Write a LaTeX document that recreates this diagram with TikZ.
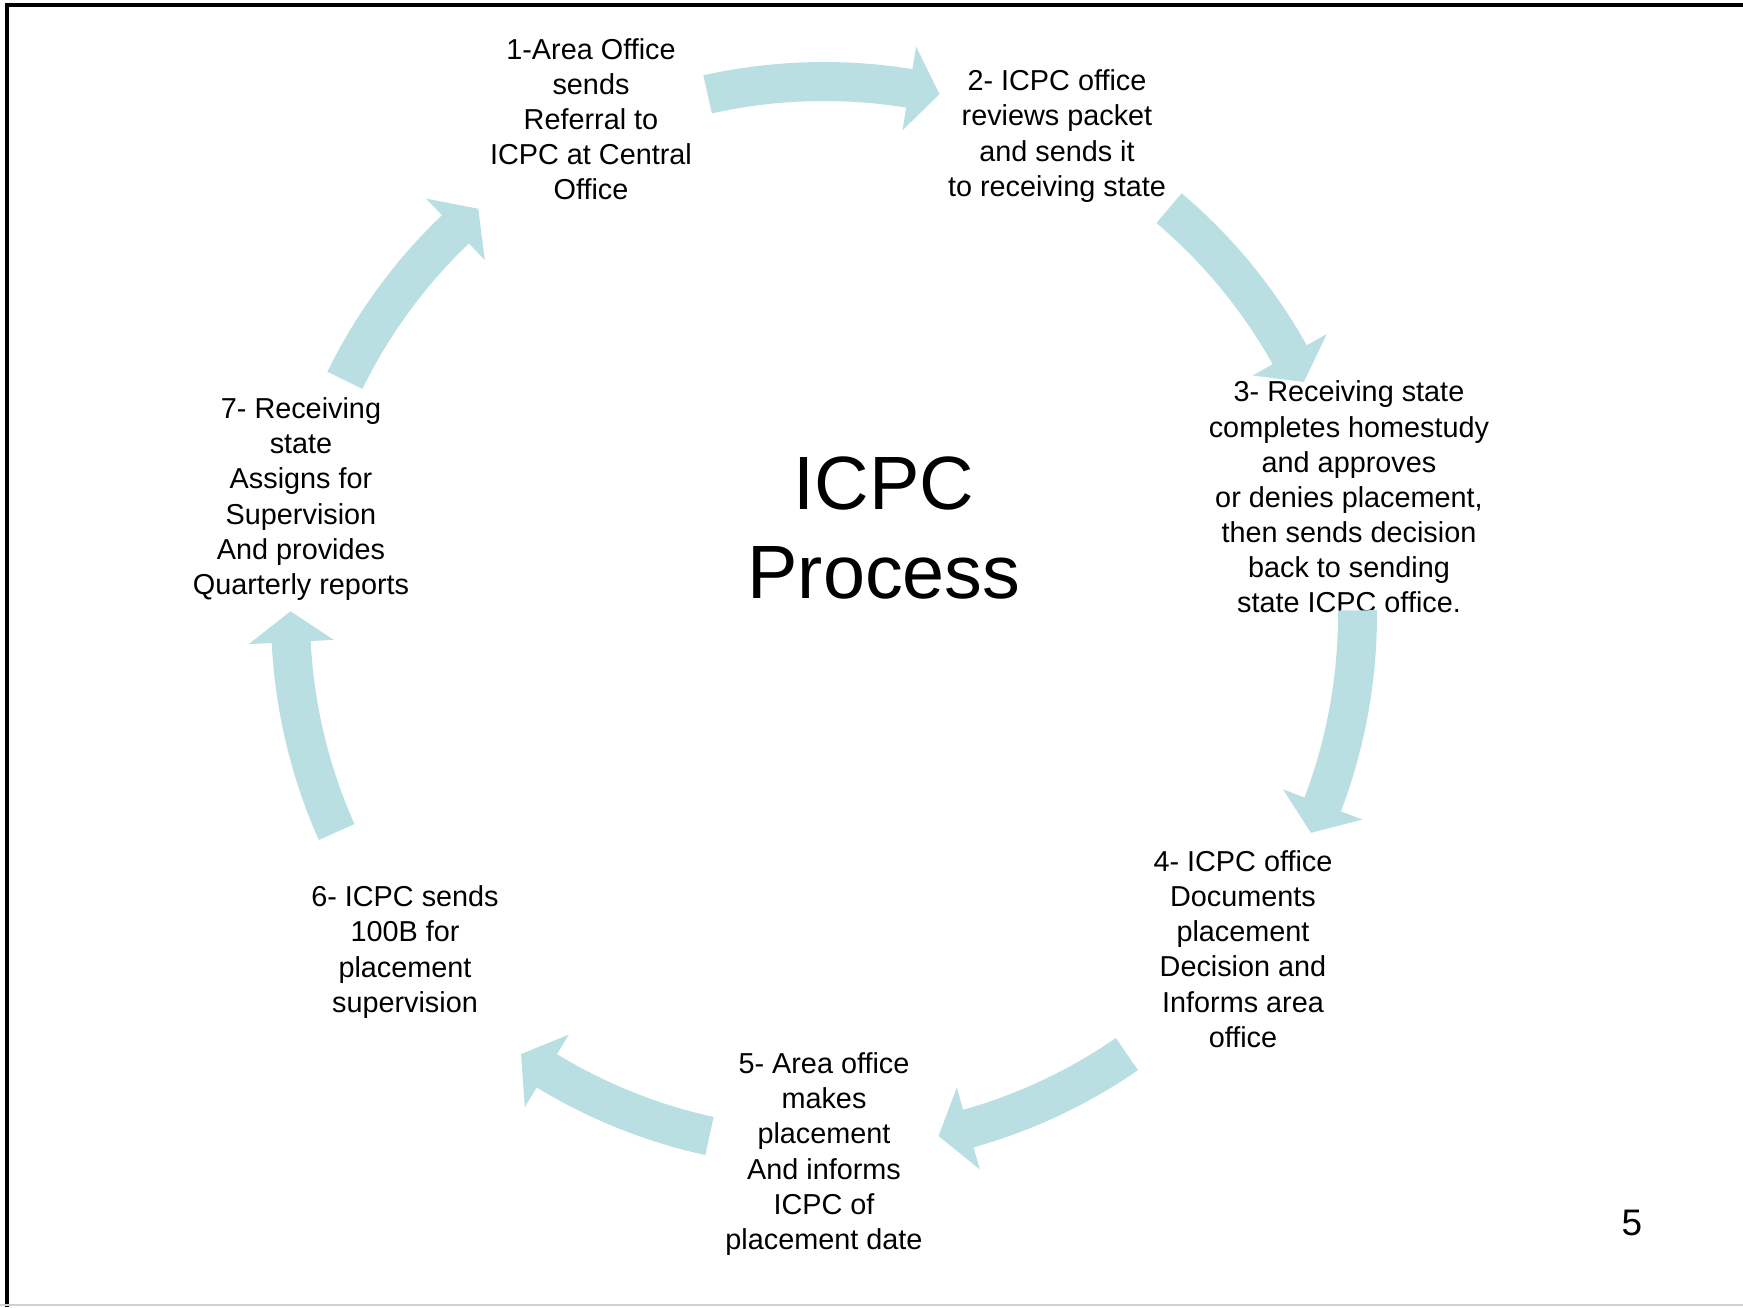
\documentclass[tikz,border=0pt]{standalone}
\usepackage{fontspec}
\setmainfont{Liberation Sans}
\definecolor{cyclearrow}{HTML}{BADFE3}

\begin{document}
\begin{tikzpicture}[
      stepnode/.style={font=\fontsize{8.2}{10}\selectfont, align=center, inner sep=0pt},
      titlenode/.style={font=\fontsize{21.5}{25.2}\selectfont, align=center, inner sep=0pt},
      pics/cycarrow/.style 2 args={code={
        \fill[cyclearrow] (#1:5.53) arc[start angle=#1, end angle=#2+3.3, radius=5.53]
          -- (#2+3.3:5.76) -- (#2:5.335) -- (#2+3.3:4.91) -- (#2+3.3:5.14)
          arc[start angle=#2+3.3, end angle=#1, radius=5.14] -- cycle;
      }}
    ]
      \useasboundingbox (-8.24,-6.92) rectangle (9.19,6.15);
      \draw[line width=1.2pt] (-8.17,-6.92) -- (-8.17,6.10) -- (9.19,6.10);
      \draw[black!18, line width=0.6pt] (-8.24,-6.90) -- (9.19,-6.90);

      \node[titlenode] (title) at (0.60,0.87) {ICPC\\Process};

      \node[stepnode] (s1) at (-2.33,4.96) {1-Area Office\\sends\\Referral to\\ICPC at Central\\Office};
      \node[stepnode] (s2) at (2.33,4.79) {2- ICPC office\\reviews packet\\and sends it\\to receiving state};
      \node[stepnode] (s3) at (5.25,1.18) {3- Receiving state\\completes homestudy\\and approves\\or denies placement,\\then sends decision\\back to sending\\state ICPC office.};
      \node[stepnode] (s4) at (4.19,-3.34) {4- ICPC office\\Documents\\placement\\Decision and\\Informs area\\office};
      \node[stepnode] (s5) at (0,-5.39) {5- Area office\\makes\\placement\\And informs\\ICPC of\\placement date};
      \node[stepnode] (s6) at (-4.19,-3.37) {6- ICPC sends\\100B for\\placement\\supervision};
      \node[stepnode] (s7) at (-5.23,1.16) {7- Receiving\\state\\Assigns for\\Supervision\\And provides\\Quarterly reports};

      \pic {cycarrow={102.6}{77.5}};
      \pic {cycarrow={49.7}{25.9}};
      \pic {cycarrow={0.5}{-24.1}};
      \pic {cycarrow={-55.4}{-77.6}};
      \pic {cycarrow={-102.4}{-124.6}};
      \pic {cycarrow={-156.0}{-180.4}};
      \pic {cycarrow={153.9}{130.4}};

      \node[font=\fontsize{10.5}{12}\selectfont, inner sep=0pt] (pagenum) at (8.08,-6.08) {5};
    \end{tikzpicture}
\end{document}
